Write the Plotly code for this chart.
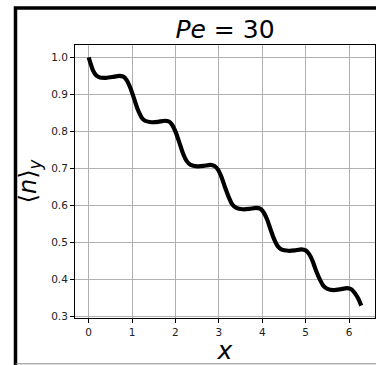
import plotly.graph_objects as go

# Data
x_vals = [0.00, 0.05, 0.10, 0.17, 0.26, 0.40, 0.55, 0.70, 0.80, 0.88, 0.96, 1.05,
          1.13, 1.22, 1.30, 1.45, 1.60, 1.75, 1.85, 1.93, 2.01, 2.09,
          2.17, 2.26, 2.35, 2.50, 2.65, 2.80, 2.90, 2.98, 3.06, 3.14,
          3.22, 3.31, 3.40, 3.55, 3.70, 3.85, 3.95, 4.03, 4.11, 4.19,
          4.27, 4.36, 4.45, 4.60, 4.75, 4.90, 5.00, 5.08, 5.16, 5.24,
          5.32, 5.41, 5.50, 5.65, 5.80, 5.95, 6.05, 6.13, 6.21, 6.28]
n_vals = [1.000, 0.982, 0.965, 0.952, 0.946, 0.945, 0.947, 0.950, 0.948, 0.938, 0.918, 0.888,
          0.860, 0.838, 0.829, 0.825, 0.826, 0.829, 0.827, 0.817, 0.797, 0.770,
          0.742, 0.720, 0.710, 0.706, 0.707, 0.710, 0.707, 0.697, 0.677, 0.650,
          0.625, 0.603, 0.594, 0.590, 0.591, 0.594, 0.592, 0.582, 0.563, 0.536,
          0.510, 0.490, 0.481, 0.478, 0.479, 0.482, 0.479, 0.469, 0.450, 0.424,
          0.402, 0.383, 0.375, 0.372, 0.374, 0.377, 0.374, 0.364, 0.349, 0.330]
x_ticks = [0, 1, 2, 3, 4, 5, 6]
y_ticks = [0.3, 0.4, 0.5, 0.6, 0.7, 0.8, 0.9, 1.0]
y_tick_labels = ["0.3", "0.4", "0.5", "0.6", "0.7", "0.8", "0.9", "1.0"]
title_text = "<i>Pe</i> = 30"
x_title = "<i>x</i>"
y_title = "⟨<i>n</i>⟩<sub><i>y</i></sub>"

FONT = "DejaVu Sans"
W, H = 376, 365
L, R, T, B = 75, 1, 45, 47

fig = go.Figure()
fig.add_trace(go.Scatter(x=x_vals, y=n_vals, mode="lines",
                         line=dict(color="black", width=4.2, shape="spline", smoothing=0.6),
                         showlegend=False, hoverinfo="skip"))

axis_common = dict(showgrid=True, gridcolor="#b0b0b0", gridwidth=1,
                   showline=True, linecolor="black", linewidth=1, mirror=True,
                   ticks="outside", ticklen=4, tickwidth=1, tickcolor="black",
                   tickfont=dict(family=FONT, size=10.5, color="#222222"),
                   zeroline=False)

fig.update_xaxes(range=[-0.314, 6.597], tickvals=x_ticks,
                 ticktext=[str(t) for t in x_ticks],
                 title=dict(text=x_title, font=dict(family=FONT, size=25, color="black"),
                            standoff=8),
                 **axis_common)
fig.update_yaxes(range=[0.2965, 1.0335], tickvals=y_ticks, ticktext=y_tick_labels,
                 title=dict(text=y_title, font=dict(family=FONT, size=24, color="black"),
                            standoff=7),
                 **axis_common)

# Figure frame (thick black border, partly cropped in the reference)
pw, ph = W - L - R, H - T - B
def px(xp):
    return (xp - L) / pw
def py(yp):
    return (H - B - yp) / ph

fig.add_shape(type="path", xref="paper", yref="paper",
              path=f"M {px(15.5)} {py(366)} L {px(15.5)} {py(8)} L {px(380)} {py(8)}",
              line=dict(color="black", width=3.5))
fig.add_shape(type="line", xref="paper", yref="paper",
              x0=px(15.5), x1=px(380), y0=py(363.8), y1=py(363.8),
              line=dict(color="#8a8a8a", width=1))

fig.update_layout(
    width=W, height=H,
    margin=dict(l=L, r=R, t=T, b=B),
    paper_bgcolor="white", plot_bgcolor="white",
    title=dict(text=title_text, x=0.5, xref="paper", xanchor="center",
               y=1 - 38 / H, yref="container", yanchor="bottom",
               font=dict(family=FONT, size=25, color="black")),
    font=dict(family=FONT),
)

fig.write_html("out.html")
